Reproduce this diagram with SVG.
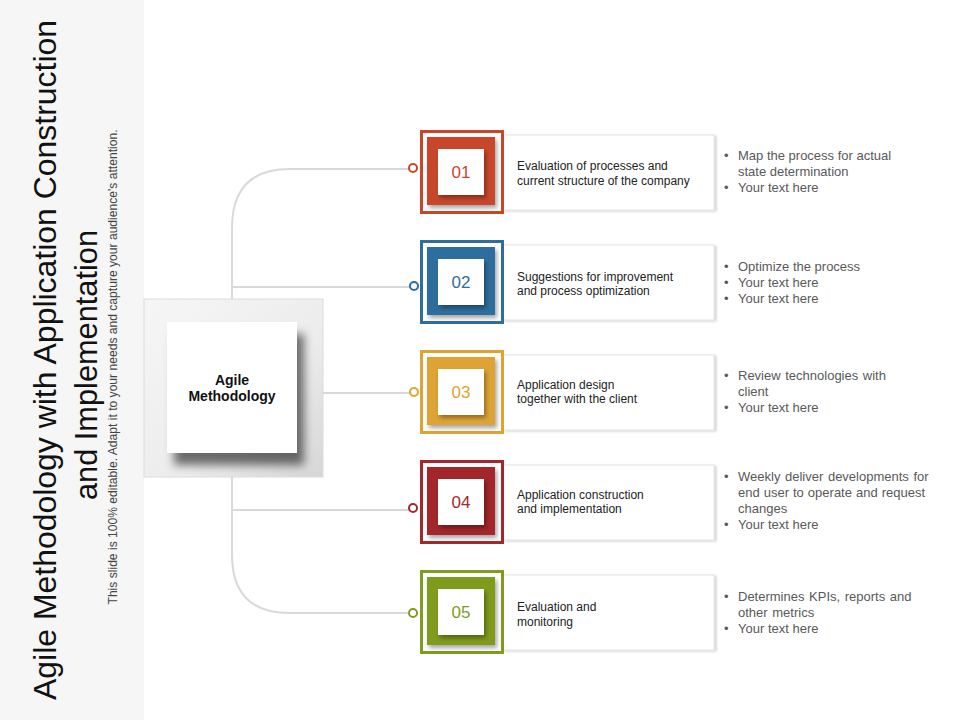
<svg xmlns="http://www.w3.org/2000/svg" width="960" height="720" viewBox="0 0 960 720">
<defs>
<style>
.ttl{font-family:"Liberation Sans",Arial,sans-serif;font-size:32px;fill:#111}
.sub{font-family:"Liberation Sans",Arial,sans-serif;font-size:12px;fill:#444}
.card{fill:#fff;stroke:#e3e3e3;stroke-width:1}
.ct{font-family:"Liberation Sans",Arial,sans-serif;font-size:12px;fill:#222}
.bt{font-family:"Liberation Sans",Arial,sans-serif;font-size:13px;fill:#595959}
.num{font-family:"Liberation Sans",Arial,sans-serif;font-size:17px;text-anchor:middle}
.conn{fill:none;stroke:#d9d9d9;stroke-width:2}
.dot{fill:#fff;stroke-width:2}
</style>
<linearGradient id="gOuter" x1="0" y1="0" x2="1" y2="1">
<stop offset="0" stop-color="#f6f6f6"/>
<stop offset="0.6" stop-color="#ececec"/>
<stop offset="1" stop-color="#d6d6d6"/>
</linearGradient>
<filter id="shBig" x="-20%" y="-20%" width="150%" height="150%">
<feDropShadow dx="7" dy="12" stdDeviation="5" flood-color="#000" flood-opacity="0.55"/>
</filter>
<filter id="shSm" x="-20%" y="-20%" width="150%" height="150%">
<feDropShadow dx="2" dy="3" stdDeviation="2" flood-color="#000" flood-opacity="0.35"/>
</filter>
<filter id="shCard" x="-5%" y="-10%" width="110%" height="120%">
<feDropShadow dx="2" dy="1" stdDeviation="1" flood-color="#000" flood-opacity="0.18"/>
</filter>
</defs>
<rect x="0" y="0" width="960" height="720" fill="#fff"/>
<rect x="0" y="0" width="144" height="720" fill="#f6f6f6"/>
<g id="title">
<text class="ttl" transform="translate(56,360) rotate(-90)" text-anchor="middle" textLength="680" lengthAdjust="spacingAndGlyphs">Agile Methodology with Application  Construction</text>
<text class="ttl" transform="translate(97,365) rotate(-90)" text-anchor="middle" textLength="270" lengthAdjust="spacingAndGlyphs">and Implementation</text>
<text class="sub" transform="translate(117,367) rotate(-90)" text-anchor="middle" textLength="475" lengthAdjust="spacingAndGlyphs">This slide is 100% editable. Adapt it to your needs and capture your audience's attention.</text>
</g>
<g id="connectors">
<path class="conn" d="M232,560 V228 Q232,169 290,169 H410"/>
<path class="conn" d="M232,287 H410"/>
<path class="conn" d="M322,393 H410"/>
<path class="conn" d="M232,510 H410"/>
<path class="conn" d="M232,500 V555 Q232,613 290,613 H410"/>
<circle class="dot" cx="413" cy="168" r="4" stroke="#c8472b"/>
<circle class="dot" cx="414" cy="286" r="4" stroke="#2e6e9e"/>
<circle class="dot" cx="414" cy="392" r="4" stroke="#dda434"/>
<circle class="dot" cx="413" cy="508" r="4" stroke="#a3282b"/>
<circle class="dot" cx="413" cy="613" r="4" stroke="#809b1e"/>
</g>
<g id="center">
<rect x="144" y="299" width="179" height="178" fill="url(#gOuter)" stroke="#dcdcdc" stroke-width="1"/>
<rect x="167" y="322" width="130" height="131" fill="#fff" filter="url(#shBig)"/>
<text x="232" y="385" text-anchor="middle" font-family="Liberation Sans, Arial, sans-serif" font-size="14" font-weight="bold" fill="#111">Agile</text>
<text x="232" y="401" text-anchor="middle" font-family="Liberation Sans, Arial, sans-serif" font-size="14" font-weight="bold" fill="#111">Methodology</text>
</g>
<g id="step1">
<rect class="card" x="503" y="135" width="211" height="75" filter="url(#shCard)"/>
<rect x="421.5" y="131.5" width="81" height="81" fill="#fff" stroke="#c8472b" stroke-width="3"/>
<rect x="427" y="137" width="68" height="68" fill="#c8472b" filter="url(#shSm)"/>
<rect x="438" y="149" width="46" height="46" fill="#fff" filter="url(#shSm)"/>
<text class="num" x="461" y="178" fill="#c8472b">01</text>
<text class="ct" x="517" y="170">Evaluation of processes and</text>
<text class="ct" x="517" y="185">current structure of the company</text>
<text class="bt" x="724" y="160">•</text><text class="bt" x="738" y="160">Map the process for actual</text>
<text class="bt" x="738" y="176">state determination</text>
<text class="bt" x="724" y="192">•</text><text class="bt" x="738" y="192">Your text here</text>
</g>
<g id="step2">
<rect class="card" x="503" y="245" width="211" height="75" filter="url(#shCard)"/>
<rect x="421.5" y="241.5" width="81" height="81" fill="#fff" stroke="#2e6e9e" stroke-width="3"/>
<rect x="427" y="247" width="68" height="68" fill="#2e6e9e" filter="url(#shSm)"/>
<rect x="438" y="259" width="46" height="46" fill="#fff" filter="url(#shSm)"/>
<text class="num" x="461" y="288" fill="#2e6e9e">02</text>
<text class="ct" x="517" y="281">Suggestions for improvement</text>
<text class="ct" x="517" y="295">and process optimization</text>
<text class="bt" x="724" y="271">•</text><text class="bt" x="738" y="271">Optimize the process</text>
<text class="bt" x="724" y="287">•</text><text class="bt" x="738" y="287">Your text here</text>
<text class="bt" x="724" y="303">•</text><text class="bt" x="738" y="303">Your text here</text>
</g>
<g id="step3">
<rect class="card" x="503" y="355" width="211" height="75" filter="url(#shCard)"/>
<rect x="421.5" y="351.5" width="81" height="81" fill="#fff" stroke="#dda434" stroke-width="3"/>
<rect x="427" y="357" width="68" height="68" fill="#dda434" filter="url(#shSm)"/>
<rect x="438" y="369" width="46" height="46" fill="#fff" filter="url(#shSm)"/>
<text class="num" x="461" y="398" fill="#dda434">03</text>
<text class="ct" x="517" y="389">Application design</text>
<text class="ct" x="517" y="403">together with the client</text>
<text class="bt" x="724" y="380">•</text><text class="bt" x="738" y="380" word-spacing="1">Review technologies with</text>
<text class="bt" x="738" y="396">client</text>
<text class="bt" x="724" y="412">•</text><text class="bt" x="738" y="412">Your text here</text>
</g>
<g id="step4">
<rect class="card" x="503" y="465" width="211" height="75" filter="url(#shCard)"/>
<rect x="421.5" y="461.5" width="81" height="81" fill="#fff" stroke="#a3282b" stroke-width="3"/>
<rect x="427" y="467" width="68" height="68" fill="#a3282b" filter="url(#shSm)"/>
<rect x="438" y="479" width="46" height="46" fill="#fff" filter="url(#shSm)"/>
<text class="num" x="461" y="508" fill="#a3282b">04</text>
<text class="ct" x="517" y="499">Application construction</text>
<text class="ct" x="517" y="513">and implementation</text>
<text class="bt" x="724" y="481">•</text><text class="bt" x="738" y="481" word-spacing="1">Weekly deliver developments for</text>
<text class="bt" x="738" y="497" word-spacing="0.4">end user to operate and request</text>
<text class="bt" x="738" y="513">changes</text>
<text class="bt" x="724" y="529">•</text><text class="bt" x="738" y="529">Your text here</text>
</g>
<g id="step5">
<rect class="card" x="503" y="575" width="211" height="75" filter="url(#shCard)"/>
<rect x="421.5" y="571.5" width="81" height="81" fill="#fff" stroke="#809b1e" stroke-width="3"/>
<rect x="427" y="577" width="68" height="68" fill="#809b1e" filter="url(#shSm)"/>
<rect x="438" y="589" width="46" height="46" fill="#fff" filter="url(#shSm)"/>
<text class="num" x="461" y="618" fill="#809b1e">05</text>
<text class="ct" x="517" y="611">Evaluation and</text>
<text class="ct" x="517" y="626">monitoring</text>
<text class="bt" x="724" y="601">•</text><text class="bt" x="738" y="601" word-spacing="1">Determines KPIs, reports and</text>
<text class="bt" x="738" y="617" word-spacing="1">other metrics</text>
<text class="bt" x="724" y="633">•</text><text class="bt" x="738" y="633">Your text here</text>
</g>
</svg>
